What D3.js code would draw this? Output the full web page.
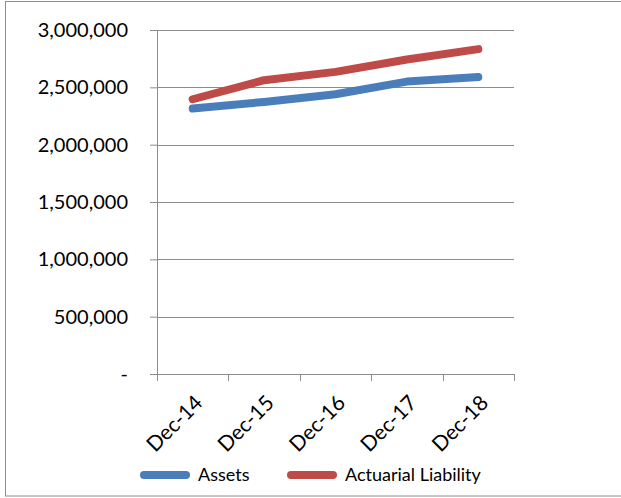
<!DOCTYPE html>
<html>
<head>
<meta charset="utf-8">
<script src="https://cdn.jsdelivr.net/npm/d3@7"></script>
<style>
  html, body { margin: 0; padding: 0; background: #fff; }
  svg text { font-family: Lato, "Open Sans", sans-serif; fill: #000; }
</style>
</head>
<body>
<div id="chart"></div>
<script>
// Chart data
const periods = ["Dec-14", "Dec-15", "Dec-16", "Dec-17", "Dec-18"];
const assets = [2315000, 2373000, 2440000, 2550000, 2590000];
const liability = [2396000, 2562000, 2635000, 2743000, 2833000];
const yTicks = [0, 500000, 1000000, 1500000, 2000000, 2500000, 3000000];
const seriesNames = ["Assets", "Actuarial Liability"];
const seriesColors = ["#4a7ebb", "#be4b48"];

function drawLineChart() {
    const W = 621, H = 498;
    const margin = { top: 30, right: 107, bottom: 124, left: 157 };
    const width = W - margin.left - margin.right;
    const height = H - margin.top - margin.bottom;

    const svg = d3.select("#chart")
        .append("svg")
        .attr("width", W)
        .attr("height", H);

    // outer chart border
    svg.append("rect")
        .attr("x", 5.5).attr("y", 1.5)
        .attr("width", 620).attr("height", 494.5)
        .attr("fill", "none")
        .attr("stroke", "#8c8c8c")
        .attr("stroke-width", 1);

    const g = svg.append("g")
        .attr("transform", `translate(${margin.left},${margin.top})`);

    const x = d3.scaleBand()
        .domain(periods)
        .range([0, width])
        .padding(0);

    const y = d3.scaleLinear()
        .domain([0, 3000000])
        .range([height, 0]);

    // gridlines
    g.append("g")
        .selectAll("line")
        .data(yTicks.filter(d => d > 0))
        .enter()
        .append("line")
        .attr("x1", 0).attr("x2", width)
        .attr("y1", d => Math.round(y(d)) + 0.5)
        .attr("y2", d => Math.round(y(d)) + 0.5)
        .attr("stroke", "#8c8c8c")
        .attr("stroke-width", 1);

    // Y axis
    const yAxis = g.append("g")
        .call(d3.axisLeft(y)
            .tickValues(yTicks)
            .tickSize(7)
            .tickPadding(22)
            .tickFormat(d => d === 0 ? "-" : d3.format(",")(d)));
    yAxis.selectAll("line, path").attr("stroke", "#8c8c8c");
    yAxis.select(".domain").attr("d", `M0.5,${height}V0`);
    yAxis.selectAll("text")
        .style("font-size", "20px")
        .style("font-family", "Lato, sans-serif")
        .attr("fill", "#000");

    // X axis
    const xAxis = g.append("g")
        .attr("transform", `translate(0,${height})`)
        .call(d3.axisBottom(x).tickSize(0).tickFormat(""));
    xAxis.select(".domain").attr("stroke", "#8c8c8c").attr("d", `M0,0.5H${width}`);

    // x tick marks at category boundaries
    g.append("g")
        .selectAll("line")
        .data(d3.range(periods.length + 1))
        .enter()
        .append("line")
        .attr("x1", i => Math.round(i * x.step()) + 0.5)
        .attr("x2", i => Math.round(i * x.step()) + 0.5)
        .attr("y1", height)
        .attr("y2", height + 7)
        .attr("stroke", "#8c8c8c");

    // rotated category labels
    g.append("g")
        .selectAll("text")
        .data(periods)
        .enter()
        .append("text")
        .attr("transform", d => `translate(${x(d) + x.bandwidth() / 2 + 6},${height + 25}) rotate(-45)`)
        .attr("text-anchor", "end")
        .attr("dy", "0.35em")
        .style("font-size", "21px")
        .text(d => d);

    // lines
    const line = d3.line()
        .x((d, i) => x(periods[i]) + x.bandwidth() / 2)
        .y(d => y(d));

    [assets, liability].forEach((vals, i) => {
        g.append("path")
            .datum(vals)
            .attr("fill", "none")
            .attr("stroke", seriesColors[i])
            .attr("stroke-width", 8)
            .attr("stroke-linecap", "round")
            .attr("stroke-linejoin", "round")
            .attr("d", line);
    });

    // legend
    const legendX = [140, 287];
    const legend = svg.append("g");
    seriesNames.forEach((name, i) => {
        legend.append("line")
            .attr("x1", legendX[i] + 4).attr("x2", legendX[i] + 46)
            .attr("y1", 475).attr("y2", 475)
            .attr("stroke", seriesColors[i])
            .attr("stroke-width", 8)
            .attr("stroke-linecap", "round");
        legend.append("text")
            .attr("x", legendX[i] + 58)
            .attr("y", 475)
            .attr("dy", "0.35em")
            .style("font-size", "18px")
            .text(name);
    });
}

drawLineChart();
</script>
</body>
</html>
